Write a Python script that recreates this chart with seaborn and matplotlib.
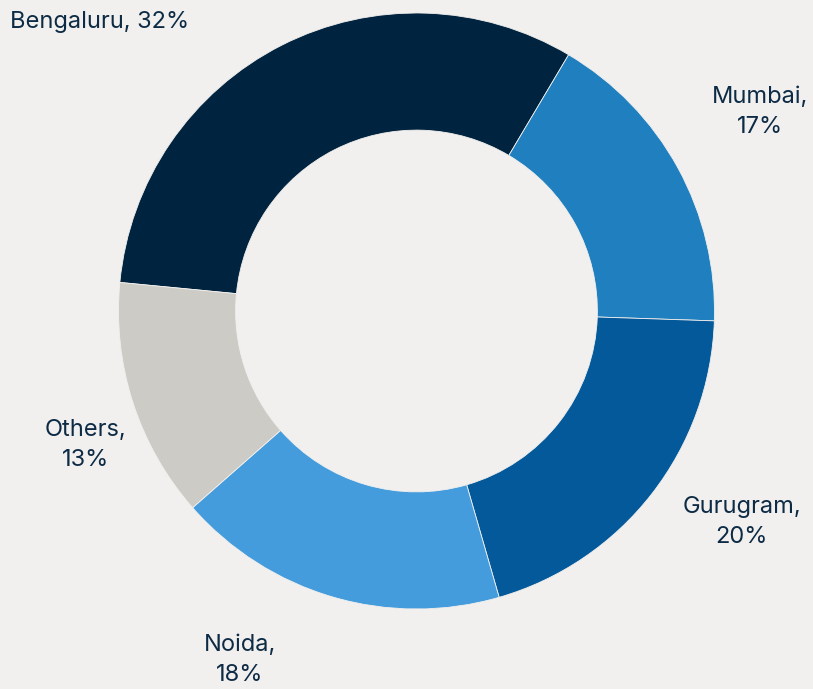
import matplotlib
matplotlib.use("Agg")
import matplotlib.pyplot as plt
import seaborn as sns

# ── Data ──────────────────────────────────────────────────────
cities = ["Bengaluru", "Mumbai", "Gurugram", "Noida", "Others"]
shares = [32, 17, 20, 18, 13]

colors = ["#00243f", "#1f7fbf", "#03599a", "#449cdc", "#cdcbc6"]
bg = "#f2f0ee"
text_col = "#0d2b45"

# label anchor points (axes data units, radius = 1)
label_pos = [(-1.062, 0.970), (1.153, 0.668), (1.092, -0.708), (-0.592, -1.171), (-1.112, -0.45)]
label_fmt = ["{}, {}%", "{},\n{}%", "{},\n{}%", "{},\n{}%", "{},\n{}%"]

# ── Plot ──────────────────────────────────────────────────────
sns.set_theme(style="white")
plt.rcParams["font.family"] = ["Inter", "DejaVu Sans"]

fig = plt.figure(figsize=(8.13, 6.89), dpi=100, facecolor=bg)
ax = fig.add_axes([0, 0, 1, 1])
ax.set_facecolor(bg)

ax.pie(shares, colors=colors, startangle=174.5, counterclock=False,
       radius=1.0, wedgeprops=dict(width=0.393, edgecolor=bg, linewidth=0.6))

for name, val, (x, y), fmt in zip(cities, shares, label_pos, label_fmt):
    ax.text(x, y, fmt.format(name, val), ha="center", va="center",
            fontsize=17, color=text_col, linespacing=1.45)

cx, cy, r = 416.5, 311, 298
ax.set_xlim(-cx / r, (813 - cx) / r)
ax.set_ylim(-(689 - cy) / r, cy / r)
ax.set_aspect("equal")
ax.axis("off")

fig.savefig("out.png", dpi=100, facecolor=bg)
